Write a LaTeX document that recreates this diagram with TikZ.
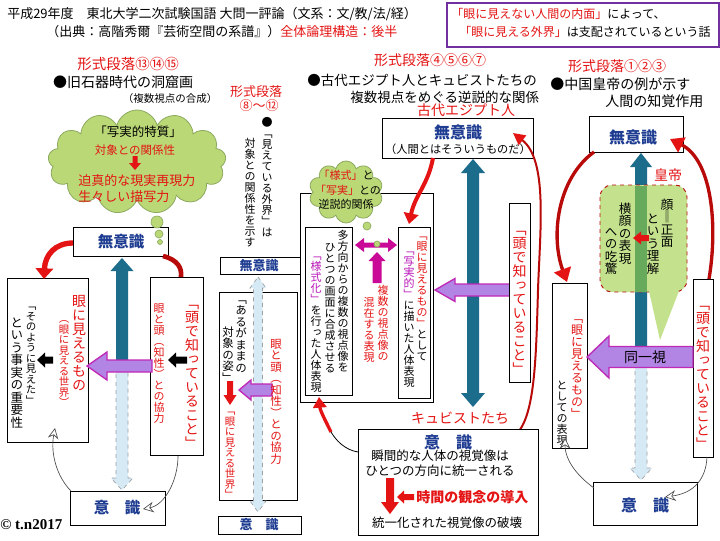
\documentclass[tikz,border=0pt]{standalone}
\usepackage{fontspec}
\usetikzlibrary{arrows.meta,shapes.symbols}
\setmainfont{Noto Sans CJK JP}
\newfontfamily\tatev[RawFeature={+vert}]{Noto Sans CJK JP}
\newfontfamily\serifen{Liberation Serif}
\definecolor{tred}{RGB}{228,20,20}
\definecolor{dred}{RGB}{185,10,10}
\definecolor{navy}{RGB}{30,60,145}
\definecolor{teal0}{RGB}{28,108,140}
\definecolor{lblue}{RGB}{214,234,246}
\definecolor{pfill}{RGB}{178,132,228}
\definecolor{pdraw}{RGB}{192,40,182}
\definecolor{mag}{RGB}{200,10,150}
\definecolor{magt}{RGB}{185,20,185}
\definecolor{cgreen}{RGB}{186,216,118}
\definecolor{cgreenb}{RGB}{140,170,95}
\definecolor{lgreen}{RGB}{196,226,142}
\definecolor{band}{RGB}{104,170,92}
\definecolor{purb}{RGB}{112,48,160}
\newcommand\fsz[1]{\fontsize{\fpeval{#1*0.75}pt}{\fpeval{#1*0.9}pt}\selectfont}
\ExplSyntaxOn
\NewDocumentCommand\vs{O{.}m}
 {
  \tl_map_inline:nn {#2}
   {
    \hbox_to_wd:nn {1em} { \hss \color{#1} \rule[-0.12em]{0pt}{1em} ##1 \hss }
   }
 }
\ExplSyntaxOff
\newcommand\vt[5][]{\node[anchor=north,inner sep=0pt,font={\tatev\fsz{#2}},#1] (#3) at (#4) {\vbox{\baselineskip=1em\lineskiplimit=-\maxdimen\lineskip=0pt\relax #5}};}
\newcommand\mkbox[6][]{\node[bx,#1,anchor=north west,inner sep=0pt,minimum width={(#5-#3)*0.75pt},minimum height={(#6-#4)*0.75pt}] (#2) at (#3,#4) {};}
\newcommand\barV[7]{%
  \pgfmathsetmacro\bsg{(#4>#3)?1:-1}%
  \pgfmathsetmacro\byb{#4-\bsg*#7}%
  \path[#1] (#2-#5/2,#3) -- (#2-#5/2,\byb) -- (#2-#6/2,\byb) -- (#2,#4) -- (#2+#6/2,\byb) -- (#2+#5/2,\byb) -- (#2+#5/2,#3) -- cycle;}
\newcommand\barH[7]{%
  \pgfmathsetmacro\bsg{(#4>#3)?1:-1}%
  \pgfmathsetmacro\bxb{#4-\bsg*#7}%
  \path[#1] (#3,#2-#5/2) -- (\bxb,#2-#5/2) -- (\bxb,#2-#6/2) -- (#4,#2) -- (\bxb,#2+#6/2) -- (\bxb,#2+#5/2) -- (#3,#2+#5/2) -- cycle;}
\newcommand\barVV[7]{%
  \path[#1] (#2,#3) -- (#2+#6/2,#3+#7) -- (#2+#5/2,#3+#7) -- (#2+#5/2,#4-#7) -- (#2+#6/2,#4-#7) -- (#2,#4) -- (#2-#6/2,#4-#7) -- (#2-#5/2,#4-#7) -- (#2-#5/2,#3+#7) -- (#2-#6/2,#3+#7) -- cycle;}
\newcommand\barHH[7]{%
  \path[#1] (#3,#2) -- (#3+#7,#2-#6/2) -- (#3+#7,#2-#5/2) -- (#4-#7,#2-#5/2) -- (#4-#7,#2-#6/2) -- (#4,#2) -- (#4-#7,#2+#6/2) -- (#4-#7,#2+#5/2) -- (#3+#7,#2+#5/2) -- (#3+#7,#2+#6/2) -- cycle;}
\begin{document}
\begin{tikzpicture}[x=0.75pt,y=-0.75pt,
  bx/.style={draw=black,line width=0.75pt,fill=white},
  tx/.style={inner sep=0pt},
  rarr/.style={fill=tred},
  karr/.style={fill=black},
  marr/.style={fill=mag},
  tarr/.style={fill=teal0},
  lbarr/.style={fill=lblue,draw=gray!75,dashed,line width=0.5pt},
  parr/.style={fill=pfill,draw=pdraw,line width=1pt},
  garr/.style={draw=gray!60!black,line width=0.5pt,-{Stealth[open,length=8pt,width=8pt,fill=white]}},
  bub/.style={draw=cgreenb,fill=cgreen,line width=0.5pt},
  mu/.style={tx,text=navy,font=\fsz{16}\bfseries}]
\fill[white] (0,0) rectangle (720,540);
\useasboundingbox (0,0) rectangle (720,540);
% header
\node[tx,anchor=west,font=\fsz{13}] (ttl1) at (7,14) {平成29年度　東北大学二次試験国語 大問一評論（文系：文/教/法/経）};
\node[tx,anchor=west,font=\fsz{13}] (ttl2) at (46,32) {（出典：高階秀爾『芸術空間の系譜』）\textcolor{tred}{全体論理構造：後半}};
\mkbox[draw=purb,line width=1.6pt]{topbox}{446}{2}{718}{46}
\node[tx,anchor=west,font=\fsz{12}] (tb1) at (451,14) {\textcolor{tred}{「眼に見えない人間の内面」}によって、};
\node[tx,anchor=west,font=\fsz{12}] (tb2) at (459,32) {\textcolor{tred}{「眼に見える外界」}は支配されているという話};
% ---------- left column
\node[tx,font=\fsz{14.5},text=tred] (p13) at (128,64) {形式段落⑬⑭⑮};
\node[tx,font=\fsz{14}] (cave) at (123,82) {●旧石器時代の洞窟画};
\node[tx,font=\fsz{10.5}] (cave2) at (170,99) {（複数視点の合成）};
\node[cloud,cloud puffs=13,aspect=1.7,draw=cgreenb,fill=cgreen,line width=0.6pt,minimum width={178*0.75pt},minimum height={104*0.75pt}] (cl1) at (137,162) {};
\node[tx,font=\fsz{12.5}] (cl1a) at (138,132) {「写実的特質」};
\node[tx,font=\fsz{11.5},text=tred] (cl1b) at (135,150) {対象との関係性};
\barV{rarr}{135}{156}{170}{5}{12}{7}
\node[tx,anchor=west,font=\fsz{13},text=tred] (cl1c) at (78,181) {迫真的な現実再現力};
\node[tx,anchor=west,font=\fsz{13},text=tred] (cl1d) at (78,197) {生々しい描写力};
\mkbox{mu1}{73}{227}{168}{256}
\draw[bub] (157,222) circle [radius=6];
\draw[bub] (159,234) circle [radius=4];
\draw[bub] (160,242) circle [radius=2.5];
\node[mu,font=\fsz{15.5}\bfseries] (mu1t) at (121,242) {無意識};
\mkbox{lb1}{7}{278}{88}{442}
\mkbox{rb1}{150}{277}{203}{455}
\barV{lbarr}{122}{366}{490}{12}{22}{12}
\barV{tarr}{122}{366}{258}{12}{23}{13}
\vt[text=tred]{14}{lb1a}{79,294}{\vs{眼に見えるもの}}
\vt[text=tred]{10.5}{lb1b}{64,313}{\vs{︵眼に見える世界︶}}
\barH{karr}{360}{53}{37}{7}{15}{8}
\vt{10.5}{lb1c}{31,300}{\vs{﹁そのように見えた﹂}}
\vt{12.5}{lb1d}{17,316}{\vs{という事実の重要性}}
\vt[text=tred]{14}{rb1a}{192,296}{\vs{﹁頭で知っていること﹂}}
\vt[text=tred]{11}{rb1b}{159,303}{\vs{眼と頭︵知性︶との協力}}
\barH{karr}{360}{187}{168}{7}{15}{8}
\barH{parr}{366}{152}{87}{12}{28}{20}
\draw[tred,line width=4pt,-{Triangle[length=8pt,width=13pt]}] (73,243) .. controls (55,243) and (45,255) .. (44,279);
\draw[dred,line width=3.5pt] (163,256) .. controls (178,260) and (182,268) .. (181,277);
\mkbox{i1}{70}{491}{165}{525}
\node[mu,font=\fsz{15.5}\bfseries] (i1t) at (117,508) {意　識};
\draw[garr] (71,491) .. controls (58,478) and (50,455) .. (55,428);
\draw[garr] (178,456) .. controls (178,480) and (165,505) .. (143,509);
\node[tx,anchor=west,font=\serifen\fsz{15}\bfseries] (copy) at (0,525) {© t.n2017};
% ---------- middle narrow column
\node[tx,font=\fsz{13},text=tred] (p8a) at (256,92) {形式段落};
\node[tx,font=\fsz{13},text=tred] (p8b) at (259,106) {⑧～⑫};
\vt{11}{m1a}{267,117}{\vs{●﹁見えている外界﹂は}}
\vt{11}{m1b}{250,138}{\vs{対象との関係性を示す}}
\mkbox{mu2}{220}{257}{300}{274}
\node[mu,font=\fsz{13}\bfseries] (mu2t) at (259,266) {無意識};
\mkbox{mb}{219}{292}{297}{500}
\barVV{lbarr}{258}{277}{512}{9}{16}{11}
\vt{11.5}{mb1}{241,293}{\vs{﹁あるがままの}}
\vt{11.5}{mb2}{228,326}{\vs{対象の姿﹂}}
\barV{rarr}{230}{381}{405}{6}{13}{10}
\vt[text=tred]{10.5}{mb3}{230,405}{\vs{﹁眼に見える世界﹂}}
\barH{parr}{390}{272}{239}{12}{20}{12}
\vt[text=tred]{11.5}{mb4}{276,338}{\vs{眼と頭︵知性︶との協力}}
\mkbox{i2}{218}{516}{301}{534}
\node[mu,font=\fsz{13}\bfseries] (i2t) at (259,525) {意　識};
% ---------- center column
\node[tx,font=\fsz{14},text=tred] (p4) at (430,60) {形式段落④⑤⑥⑦};
\node[tx,anchor=west,font=\fsz{13.5}] (eg1) at (307,80) {●古代エジプト人とキュビストたちの};
\node[tx,anchor=west,font=\fsz{13.5}] (eg2) at (350,97) {複数視点をめぐる逆説的な関係};
\node[tx,font=\fsz{14},text=tred] (eg3) at (466,110) {古代エジプト人};
\mkbox{mu3}{382}{118}{533}{158}
\node[mu] (mu3t) at (458,132) {無意識};
\node[tx,font=\fsz{11.2}] (mu3s) at (458,149) {（人間とはそういうものだ）};
\mkbox{ob}{300}{193}{433}{402}
\mkbox{il}{305}{227}{352}{395}
\mkbox{ir}{398}{227}{430}{398}
\barVV{tarr}{473}{159}{407}{12}{24}{14}
\node[cloud,cloud puffs=10,aspect=1.25,draw=cgreenb,fill=cgreen,line width=0.6pt,minimum width={74*0.75pt},minimum height={62*0.75pt}] (cl2) at (346,192) {};
\node[tx,font=\fsz{11}] (cl2a) at (346,175) {\textcolor{tred}{「様式」}と};
\node[tx,font=\fsz{11}] (cl2b) at (348,190) {\textcolor{tred}{「写実」}との};
\node[tx,font=\fsz{11}] (cl2c) at (346,204) {逆説的関係};
\draw[bub] (367,226) circle [radius=4];
\vt{11}{il1}{343,230}{\vs{多方向からの複数の視点像を}}
\vt{11}{il2}{330,242}{\vs{ひとつの画面に合成させる}}
\vt{11}{il3}{316,250}{\vs[magt]{﹁様式化﹂}\vs{を行った人体表現}}
\vt{11}{ir1}{422,230}{\vs[tred]{﹁眼に見えるもの﹂}\vs{として}}
\vt{11}{ir2}{409,245}{\vs[magt]{﹁写実的﹂}\vs{に描いた人体表現}}
\barHH{marr}{245}{355}{397}{5}{14}{9}
\barV{marr}{377}{283}{252}{9}{17}{9}
\draw[bub] (377,244) circle [radius=3];
\vt[text=tred]{11}{mx1}{383,285}{\vs{複数の視点像の}}
\vt[text=tred]{11}{mx2}{369,297}{\vs{混在する表現}}
\barH{parr}{290}{510}{435}{12}{23}{20}
\mkbox{rt}{509}{203}{530}{382}
\vt[text=tred]{14}{rt1}{519.5,222}{\vs{﹁頭で知っていること﹂}}
\draw[dred,line width=1.5pt,{Triangle[length=9pt,width=9pt,color=tred]}-{Triangle[length=9pt,width=9pt,color=tred]}] (513,133) .. controls (548,160) and (540,230) .. (538,290) .. controls (536,360) and (535,420) .. (505,443);
\draw[tred,line width=3pt,-{Triangle[length=8pt,width=11pt]}] (433,158) .. controls (428,185) and (415,195) .. (409,224);
\node[tx,font=\fsz{14},text=tred] (cub) at (460,418) {キュビストたち};
\mkbox{i3}{358}{429}{538}{535}
\draw[line width=0.6pt] (358,452) .. controls (345,450) and (335,440) .. (330,430);
\draw[tred,line width=2.5pt,-{Triangle[length=8pt,width=10pt]}] (331,432) .. controls (325,420) and (320,410) .. (319,397);
\node[mu] (i3t) at (448,442) {意　識};
\node[tx,font=\fsz{12.5}] (i3a) at (440,456) {瞬間的な人体の視覚像は};
\node[tx,font=\fsz{12.5}] (i3b) at (440,471) {ひとつの方向に統一される};
\barV{rarr}{390}{478}{514}{8}{18}{12}
\barH{rarr}{497}{414}{397}{6}{13}{7}
\node[tx,anchor=west,font=\fsz{14}\bfseries,text=tred] (tm) at (416,497) {時間の観念の導入};
\node[tx,font=\fsz{12.5}] (hak) at (447,523) {統一化された視覚像の破壊};
% ---------- right column
\node[tx,font=\fsz{14},text=tred] (p1) at (617,66) {形式段落①②③};
\node[tx,anchor=west,font=\fsz{14}] (ch1) at (550,84) {●中国皇帝の例が示す};
\node[tx,anchor=west,font=\fsz{14}] (ch2) at (605,101) {人間の知覚作用};
\mkbox{mu4}{589}{116}{683}{152}
\node[mu] (mu4t) at (633,137) {無意識};
\barV{lbarr}{641}{347}{480}{12}{22}{12}
\barV{tarr}{641}{347}{153}{12}{22}{14}
\node[tx,font=\fsz{14},text=tred] (kt) at (668,175) {皇帝};
\draw[fill=lgreen,draw=dred,dashed,line width=0.7pt,rounded corners=9pt] (600,185) rectangle (687,292);
\fill[band] (635,185.5) rectangle (647,291.5);
\fill[lgreen] (649,291) -- (660,340) -- (679,291) -- cycle;
\barH{rarr}{238}{649}{633}{6}{13}{8}
\vt{12.5}{cb1}{667,198}{\vs{顔‖正面}}
\vt{12.5}{cb2}{653,212}{\vs{という理解}}
\vt{12.5}{cb3}{625,202}{\vs{横顔の表現}}
\vt{12.5}{cb4}{611,225}{\vs{への吃驚}}
\mkbox{lb4}{552}{283}{587}{448}
\vt[text=tred]{12}{lb4a}{577,312}{\vs{﹁眼に見えるもの﹂}}
\vt{11}{lb4b}{562,380}{\vs{としての表現}}
\mkbox{rb4}{693}{279}{713}{457}
\vt[text=tred]{14}{rb4a}{703,297}{\vs{﹁頭で知っていること﹂}}
\barH{parr}{357}{693}{587}{21}{42}{22}
\node[tx,font=\fsz{14}] (dou) at (645,357) {同一視};
\draw[dred,line width=2.5pt,-{Triangle[length=10pt,width=13pt,color=tred]}] (594,152) .. controls (558,178) and (550,235) .. (567,282);
\draw[dred,line width=2.5pt,-{Triangle[length=10pt,width=12pt,color=tred]}] (709,279) .. controls (718,225) and (712,160) .. (670,139);
\mkbox{i4}{593}{482}{697}{525}
\node[mu] (i4t) at (645,505) {意　識};
\draw[garr] (594,488) .. controls (580,478) and (565,462) .. (565,438);
\draw[garr] (707,457) .. controls (706,478) and (695,493) .. (665,497);
\end{tikzpicture}
\end{document}
